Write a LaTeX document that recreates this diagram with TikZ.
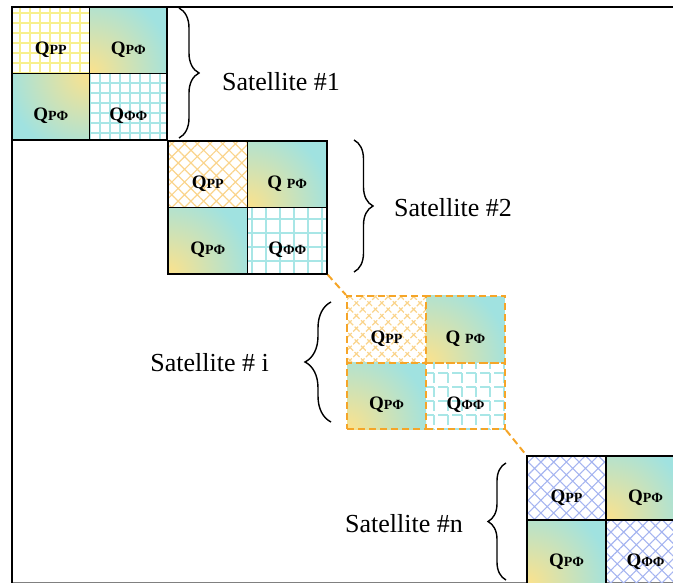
\documentclass[tikz,border=0pt]{standalone}
\usepackage{fontspec}
\setmainfont{Liberation Serif}
\usetikzlibrary{patterns.meta,decorations.pathreplacing}
\definecolor{qteal}{RGB}{160,226,224}
\definecolor{qyel}{RGB}{252,226,140}
\definecolor{gyel}{RGB}{248,240,140}
\definecolor{gcyan}{RGB}{168,230,230}
\definecolor{horange}{RGB}{250,212,140}
\definecolor{hblue}{RGB}{165,180,240}
\definecolor{dorange}{RGB}{245,165,40}
\newcommand\qbig{\bfseries\fontsize{19}{21}\selectfont}
\newcommand\qsmall{\bfseries\fontsize{14}{16}\selectfont}
\tikzset{
  cell/.style={draw, line width=1.5pt, inner sep=0pt},
  dcell/.style={draw=dorange, dash pattern=on 7pt off 4pt, line width=2pt, inner sep=0pt},
  szA/.style={minimum width=77.5pt, minimum height=66.5pt},
  szB/.style={minimum width=79.5pt, minimum height=66.5pt},
  szC/.style={minimum width=79pt, minimum height=66.5pt},
  szD/.style={minimum width=79pt, minimum height=64pt},
  ygrid/.style={pattern={Hatch[angle=0,distance=10pt,line width=1.2pt]}, pattern color=gyel},
  cgridA/.style={pattern={Hatch[angle=0,distance=10pt,line width=1.2pt]}, pattern color=gcyan},
  cgridB/.style={pattern={Hatch[angle=0,distance=14pt,line width=1.4pt]}, pattern color=gcyan},
  ohatch/.style={pattern={Hatch[angle=45,distance=9pt,line width=1.2pt]}, pattern color=horange},
  bhatch/.style={pattern={Hatch[angle=45,distance=9pt,line width=1.1pt]}, pattern color=hblue},
  shBL/.style={fill=qteal, path picture={\shade[inner color=qyel,outer color=qteal] (path picture bounding box.south west) circle (84pt);}},
  shTR/.style={fill=qteal, path picture={\shade[inner color=qyel,outer color=qteal] (path picture bounding box.north east) circle (84pt);}},
  qlab/.style={anchor=base, inner sep=0pt},
  sat/.style={inner sep=0pt, font=\fontsize{26}{30}\selectfont},
  bracestyle/.style={decorate, line width=1.4pt, decoration={brace, amplitude=#1}},
  conn/.style={draw=dorange, line width=2pt, dash pattern=on 7pt off 4pt}
}
\begin{document}
\begin{tikzpicture}[x=1pt, y=-1pt]
\useasboundingbox (0,0) rectangle (673,583);
\clip (0,0) rectangle (673,583);
% frame
\draw[gray, line width=1pt] (12,582) -- (673,582);
\draw[line width=2pt] (12,583) -- (12,7) -- (673,7);
% block 1
\node[cell, szA, ygrid] (b1pp) at (50.75,40.25) {};
\node[cell, szA, shBL] (b1pf) at (128.25,40.25) {};
\node[cell, szA, shTR] (b1fp) at (50.75,106.75) {};
\node[cell, szA, cgridA] (b1ff) at (128.25,106.75) {};
% block 2
\node[cell, szB, ohatch] (b2pp) at (207.75,174.25) {};
\node[cell, szB, shBL] (b2pf) at (287.25,174.25) {};
\node[cell, szB, shBL] (b2fp) at (207.75,240.75) {};
\node[cell, szB, cgridB] (b2ff) at (287.25,240.75) {};
% block 3
\node[dcell, szC, ohatch] (b3pp) at (386.5,329.25) {};
\node[dcell, szC, shBL] (b3pf) at (465.5,329.25) {};
\node[dcell, szC, shBL] (b3fp) at (386.5,395.75) {};
\node[dcell, szC, cgridB] (b3ff) at (465.5,395.75) {};
% block 4
\node[cell, szD, bhatch] (b4pp) at (566.5,488) {};
\node[cell, szD, shBL] (b4pf) at (645.5,488) {};
\node[cell, szD, shBL] (b4fp) at (566.5,552) {};
\node[cell, szD, bhatch] (b4ff) at (645.5,552) {};
% labels
\node[qlab] (l1a) at ([yshift=-14pt]b1pp.center) {\qbig Q\qsmall PP};
\node[qlab] (l1b) at ([yshift=-14pt]b1pf.center) {\qbig Q\qsmall PΦ};
\node[qlab] (l1c) at ([yshift=-14pt]b1fp.center) {\qbig Q\qsmall PΦ};
\node[qlab] (l1d) at ([yshift=-14pt]b1ff.center) {\qbig Q\qsmall ΦΦ};
\node[qlab] (l2a) at ([yshift=-14pt]b2pp.center) {\qbig Q\qsmall PP};
\node[qlab] (l2b) at ([yshift=-14pt]b2pf.center) {\qbig Q \qsmall PΦ};
\node[qlab] (l2c) at ([yshift=-14pt]b2fp.center) {\qbig Q\qsmall PΦ};
\node[qlab] (l2d) at ([yshift=-14pt]b2ff.center) {\qbig Q\qsmall ΦΦ};
\node[qlab] (l3a) at ([yshift=-14pt]b3pp.center) {\qbig Q\qsmall PP};
\node[qlab] (l3b) at ([yshift=-14pt]b3pf.center) {\qbig Q \qsmall PΦ};
\node[qlab] (l3c) at ([yshift=-14pt]b3fp.center) {\qbig Q\qsmall PΦ};
\node[qlab] (l3d) at ([yshift=-14pt]b3ff.center) {\qbig Q\qsmall ΦΦ};
\node[qlab] (l4a) at ([yshift=-14pt]b4pp.center) {\qbig Q\qsmall PP};
\node[qlab] (l4b) at ([yshift=-14pt]b4pf.center) {\qbig Q\qsmall PΦ};
\node[qlab] (l4c) at ([yshift=-14pt]b4fp.center) {\qbig Q\qsmall PΦ};
\node[qlab] (l4d) at ([yshift=-14pt]b4ff.center) {\qbig Q\qsmall ΦΦ};
% connectors
\draw[conn] (b2ff.south east) -- (b3pp.north west);
\draw[conn] (b3ff.south east) -- (b4pp.north west);
% braces
\coordinate (br1a) at (179,8);
\coordinate (br1b) at (179,138);
\coordinate (br2a) at (354,140);
\coordinate (br2b) at (354,272);
\coordinate (br3a) at (331,422);
\coordinate (br3b) at (331,302);
\coordinate (br4a) at (506,580);
\coordinate (br4b) at (506,463);
\draw[bracestyle=20pt] (br1a) -- (br1b);
\draw[bracestyle=19pt] (br2a) -- (br2b);
\draw[bracestyle=26pt] (br3a) -- (br3b);
\draw[bracestyle=18pt] (br4a) -- (br4b);
% satellite labels
\node[sat, anchor=base west] (s1) at (222,91) {Satellite \#1};
\node[sat, anchor=base west] (s2) at (394,217) {Satellite \#2};
\node[sat, anchor=base east] (si) at (269,371) {Satellite \# i};
\node[sat, anchor=base east] (sn) at (463,532) {Satellite \#n};
\end{tikzpicture}
\end{document}
